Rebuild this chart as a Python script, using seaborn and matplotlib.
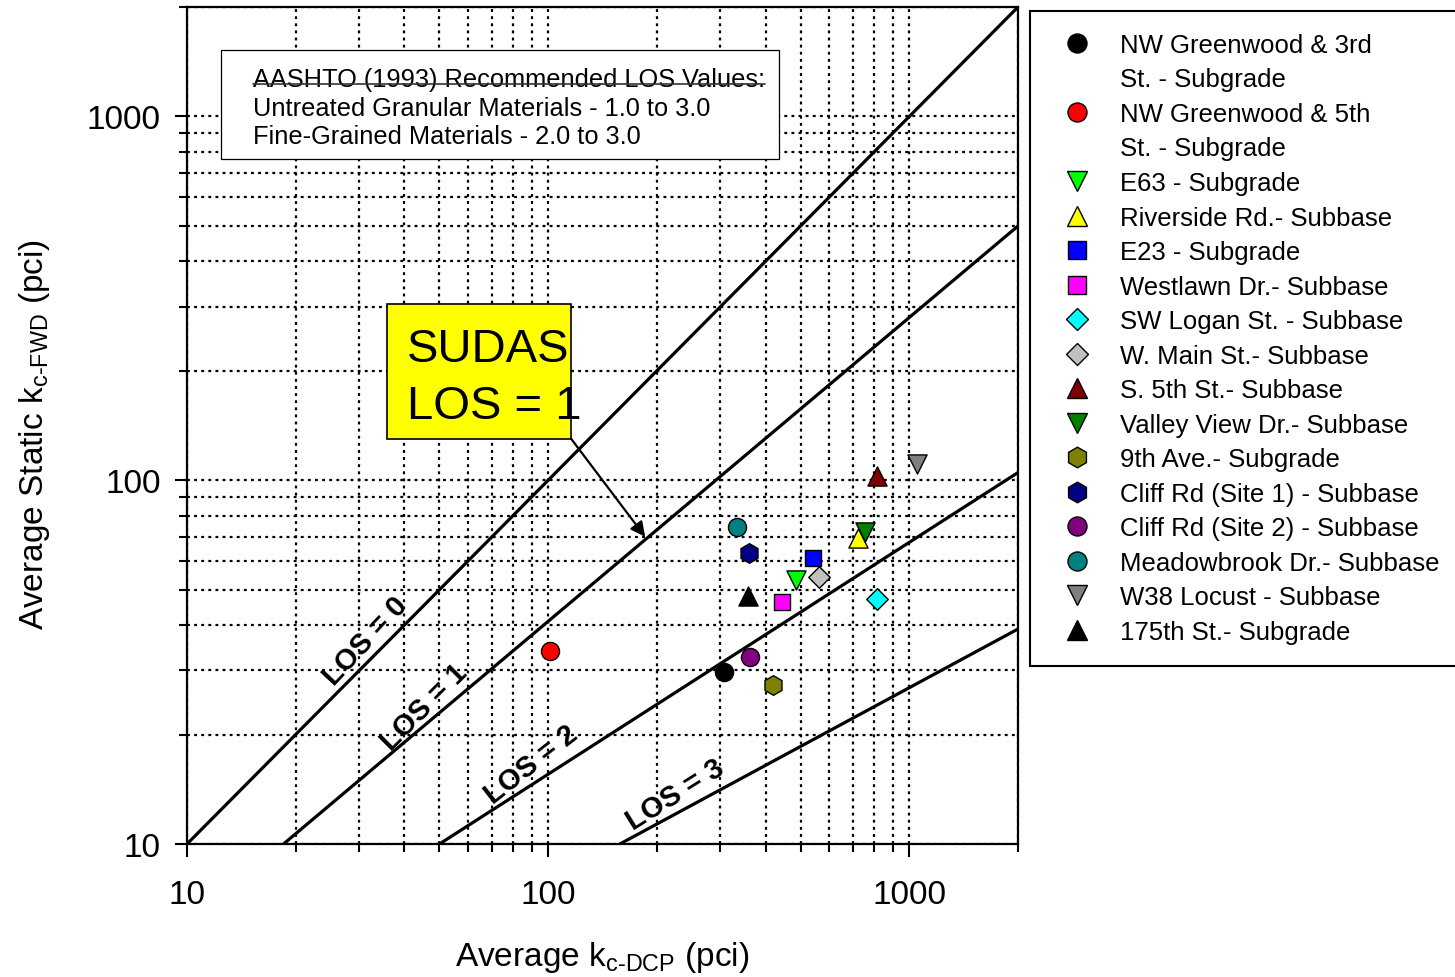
import numpy as np
import pandas as pd
import matplotlib
matplotlib.use("Agg")
import matplotlib.pyplot as plt
from matplotlib.lines import Line2D
from matplotlib.patches import Rectangle
from matplotlib.ticker import LogLocator, NullFormatter
from matplotlib.transforms import IdentityTransform
import seaborn as sns

# ---- test sites: average DCP-based k vs. average static FWD-based k (pci) ----
sites = [
    "NW Greenwood & 3rd\nSt. - Subgrade",
    "NW Greenwood & 5th\nSt. - Subgrade",
    "E63 - Subgrade",
    "Riverside Rd.- Subbase",
    "E23 - Subgrade",
    "Westlawn Dr.- Subbase",
    "SW Logan St. - Subbase",
    "W. Main St.- Subbase",
    "S. 5th St.- Subbase",
    "Valley View Dr.- Subbase",
    "9th Ave.- Subgrade",
    "Cliff Rd (Site 1) - Subbase",
    "Cliff Rd (Site 2) - Subbase",
    "Meadowbrook Dr.- Subbase",
    "W38 Locust - Subbase",
    "175th St.- Subgrade",
]
k_dcp = [307, 101, 486, 722, 542, 445, 815, 563, 815, 755, 420, 360, 363, 334, 1052, 358]
k_fwd = [29.7, 34.0, 53.2, 69.5, 61.2, 46.3, 47.2, 54.3, 102.9, 72.2, 27.4, 63.2, 32.7, 74.5, 111, 48.1]
colors = ["#000000", "#ff0000", "#00ff00", "#ffff00", "#0000ff", "#ff00ff", "#00ffff",
          "#c0c0c0", "#800000", "#008000", "#808000", "#000080", "#800080", "#008080",
          "#808080", "#000000"]
markers = ["o", "o", "v", "^", "s", "s", "D", "D", "^", "v", "h", "h", "o", "o", "v", "^"]

# ---- loss-of-support reference lines ----
los_labels = ["LOS = 0", "LOS = 1", "LOS = 2", "LOS = 3"]
los_x = [[10, 2000], [18.5, 2000], [50, 2000], [158, 2000]]
los_y = [[10, 2000], [10, 500], [10, 105], [10, 39]]
los_label_x = [31.3, 45.4, 89.8, 225]
los_label_y = [36.2, 23.8, 16.6, 13.7]
los_label_rot = [47, 45, 38, 32]

x_ticks = [10, 100, 1000]
y_ticks = [10, 100, 1000]

sns.set_style("ticks")
plt.rcParams["font.family"] = ["Liberation Sans", "DejaVu Sans"]
plt.rcParams["text.color"] = "black"
plt.rcParams["axes.labelcolor"] = "black"
plt.rcParams["xtick.color"] = "black"
plt.rcParams["ytick.color"] = "black"
plt.rcParams["mathtext.fontset"] = "custom"
plt.rcParams["mathtext.rm"] = "Liberation Sans"
plt.rcParams["mathtext.it"] = "Liberation Sans:italic"
plt.rcParams["mathtext.bf"] = "Liberation Sans:bold"
plt.rcParams["mathtext.default"] = "regular"

W, H = 1455, 978
fig = plt.figure(figsize=(W / 100, H / 100), dpi=100)
ax = fig.add_axes([187 / W, (H - 845) / H, 831 / W, 837 / H])
ax.set_xscale("log")
ax.set_yscale("log")
ax.set_xlim(10, 2000)
ax.set_ylim(10, 2000)

# ticks and grid
ax.set_xticks(x_ticks, labels=[str(v) for v in x_ticks])
ax.set_yticks(y_ticks, labels=[str(v) for v in y_ticks])
for axis in (ax.xaxis, ax.yaxis):
    axis.set_minor_locator(LogLocator(base=10, subs=np.arange(2, 10)))
    axis.set_minor_formatter(NullFormatter())
ax.tick_params(which="major", direction="out", length=9, width=1.5, color="black",
               labelsize=24, labelcolor="black")
ax.tick_params(which="minor", direction="out", length=6, width=1.5, color="black")
ax.tick_params(axis="x", which="major", pad=16)
ax.tick_params(axis="y", which="major", pad=10)
ax.grid(which="both", color="black", linestyle=(0, (1.3, 1.9)), linewidth=1.6)
ax.set_axisbelow(True)
for sp in ax.spines.values():
    sp.set_visible(True)
    sp.set_color("black")
    sp.set_linewidth(1.6)

# LOS lines and their labels
for xs, ys in zip(los_x, los_y):
    sns.lineplot(x=xs, y=ys, color="black", linewidth=2.3, ax=ax, zorder=3,
                 estimator=None, sort=False, legend=False)
for lx, ly, lab, rot in zip(los_label_x, los_label_y, los_labels, los_label_rot):
    ax.text(lx, ly, lab, rotation=rot, rotation_mode="anchor", ha="center", va="center",
            fontsize=21, fontweight="bold", color="black", zorder=4)

# site points
marker_area = {"o": 170, "s": 140, "D": 120, "^": 190, "v": 190, "h": 200}
df = pd.DataFrame({"site": sites, "k_dcp": k_dcp, "k_fwd": k_fwd})
for i, row in df.iterrows():
    sns.scatterplot(x=[row["k_dcp"]], y=[row["k_fwd"]], marker=markers[i], color=colors[i],
                    s=marker_area[markers[i]], edgecolor="black", linewidth=1.0,
                    ax=ax, zorder=5, legend=False)

# AASHTO note box
ax.add_patch(Rectangle((0.041, 0.818), 0.671, 0.1306, transform=ax.transAxes,
                       facecolor="white", edgecolor="black", linewidth=0.9, zorder=6))
note_lines = ["AASHTO (1993) Recommended LOS Values:",
              "Untreated Granular Materials - 1.0 to 3.0",
              "Fine-Grained Materials - 2.0 to 3.0"]
note_y = [0.9056, 0.871, 0.8375]
note_texts = []
for txt, yy in zip(note_lines, note_y):
    note_texts.append(ax.text(0.0794, yy, txt, transform=ax.transAxes, ha="left",
                              va="baseline", fontsize=18.3, color="black", zorder=7))

# SUDAS callout
ax.add_patch(Rectangle((0.2407, 0.4839), 0.2214, 0.1613, transform=ax.transAxes,
                       facecolor="#ffff00", edgecolor="black", linewidth=1.2, zorder=6))
ax.text(0.2647, 0.577, "SUDAS", transform=ax.transAxes, ha="left", va="baseline",
        fontsize=34, color="black", zorder=7)
ax.text(0.2647, 0.509, "LOS = 1", transform=ax.transAxes, ha="left", va="baseline",
        fontsize=34, color="black", zorder=7)
ax.annotate("", xy=(185.7, 69.9), xytext=(115.8, 130),
            arrowprops=dict(arrowstyle="-|>", color="black", lw=1.6, mutation_scale=22,
                            shrinkA=0, shrinkB=0), zorder=7)

# axis titles
ax.set_xlabel(r"Average k$_{\text{c-DCP}}$ (pci)", fontsize=24, color="black")
ax.set_ylabel(r"Average Static k$_{\text{c-FWD}}$ (pci)", fontsize=24, color="black")
ax.xaxis.set_label_coords(0.5, -0.114)
ax.yaxis.set_label_coords(-0.162, 0.49)

# legend: markers sit beside the first line of each site name
handles, labels = [], []
for name, c, m in zip(sites, colors, markers):
    parts = name.split("\n")
    handles.append(Line2D([], [], linestyle="none", marker=m, markerfacecolor=c,
                          markeredgecolor="black", markeredgewidth=1.0,
                          markersize=np.sqrt(marker_area[m]) * 1.05))
    labels.append(parts[0])
    for extra in parts[1:]:
        handles.append(Line2D([], [], linestyle="none", marker=None))
        labels.append(extra)
leg = fig.legend(handles, labels, loc="upper left", bbox_to_anchor=(1030 / W, 1 - 12 / H),
                 bbox_transform=fig.transFigure, frameon=True, fancybox=False,
                 edgecolor="black", framealpha=1, fontsize=18.5, borderpad=0.85,
                 handlelength=1.96, handletextpad=0.69, labelspacing=0.41,
                 borderaxespad=0, numpoints=1)
leg.get_frame().set_linewidth(1.5)
for t in leg.get_texts():
    t.set_color("black")

# line drawn across the header of the note
fig.canvas.draw()
renderer = fig.canvas.get_renderer()
bb = note_texts[0].get_window_extent(renderer)
base_y = ax.transAxes.transform((0, note_y[0]))[1]
fig.add_artist(Line2D([bb.x0, bb.x1], [base_y + 2, base_y + 2], transform=IdentityTransform(),
                      color="#333333", linewidth=1.2, zorder=8))

fig.savefig("out.png", dpi=100)
